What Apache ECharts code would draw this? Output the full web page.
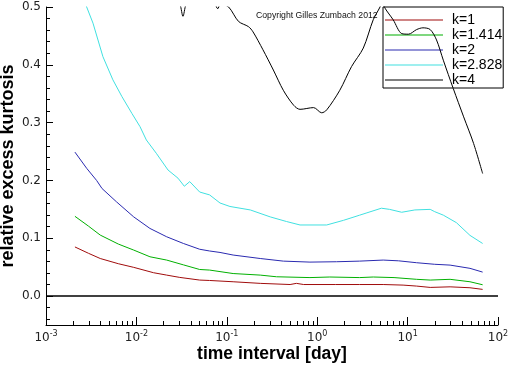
<!DOCTYPE html>
<html>
<head>
<meta charset="utf-8">
<script src="https://cdn.jsdelivr.net/npm/echarts@6/dist/echarts.min.js"></script>
<style>
  html, body { margin: 0; padding: 0; background: #fff; }
  #chart { width: 512px; height: 366px; }
</style>
</head>
<body>
<div id="chart"></div>
<script>
// x values are log10 of the time interval in days
const seriesNames = ['k=1', 'k=1.414', 'k=2', 'k=2.828', 'k=4'];
const xTickExponents = [-3, -2, -1, 0, 1, 2];
const yTickLabels = [0.0, 0.1, 0.2, 0.3, 0.4, 0.5];

const logTimeK1 = [-2.68, -2.53, -2.40, -2.2, -2.03, -1.81, -1.665, -1.52, -1.30, -1.19, -0.93, -0.63, -0.30, -0.23, -0.15, 0.2, 0.47, 0.73, 0.95, 1.10, 1.25, 1.47, 1.69, 1.83];
const kurtK1 = [0.085, 0.074, 0.065, 0.056, 0.0497, 0.0404, 0.0363, 0.0323, 0.0277, 0.027, 0.0248, 0.022, 0.020, 0.022, 0.020, 0.020, 0.020, 0.020, 0.019, 0.0173, 0.015, 0.016, 0.0144, 0.0116];

const logTimeK1414 = [-2.68, -2.53, -2.40, -2.2, -2.03, -1.85, -1.665, -1.48, -1.30, -1.19, -0.93, -0.63, -0.45, -0.08, 0.14, 0.47, 0.62, 0.85, 1.10, 1.25, 1.47, 1.69, 1.83];
const kurtK1414 = [0.138, 0.121, 0.1055, 0.090, 0.0796, 0.068, 0.0623, 0.054, 0.046, 0.045, 0.039, 0.0363, 0.0334, 0.032, 0.033, 0.032, 0.033, 0.032, 0.029, 0.0277, 0.029, 0.0248, 0.0196];

const logTimeK2 = [-2.68, -2.55, -2.44, -2.38, -2.22, -2.03, -1.85, -1.665, -1.48, -1.30, -1.19, -1.075, -0.93, -0.63, -0.375, -0.08, 0.215, 0.47, 0.73, 0.9, 1.10, 1.30, 1.47, 1.69, 1.83];
const kurtK2 = [0.249, 0.221, 0.200, 0.186, 0.163, 0.137, 0.117, 0.1026, 0.091, 0.081, 0.078, 0.0755, 0.071, 0.065, 0.0605, 0.0588, 0.0594, 0.0605, 0.0623, 0.061, 0.0577, 0.055, 0.0536, 0.048, 0.0415];

const logTimeK2828 = [-2.68, -2.55, -2.48, -2.37, -2.26, -2.16, -2.05, -1.96, -1.89, -1.78, -1.65, -1.54, -1.47, -1.41, -1.30, -1.19, -1.075, -0.965, -0.74, -0.52, -0.34, -0.19, 0.105, 0.29, 0.47, 0.55, 0.71, 0.80, 0.935, 1.08, 1.25, 1.30, 1.395, 1.54, 1.69, 1.83];
const kurtK2828 = [0.56, 0.50, 0.472, 0.414, 0.374, 0.345, 0.316, 0.293, 0.270, 0.247, 0.218, 0.204, 0.190, 0.198, 0.180, 0.175, 0.161, 0.155, 0.149, 0.137, 0.129, 0.123, 0.123, 0.131, 0.140, 0.144, 0.152, 0.150, 0.145, 0.149, 0.150, 0.146, 0.140, 0.127, 0.105, 0.091];

const logTimeK4 = [-2.68, -2.4, -2.1, -1.8, -1.6, -1.52, -1.485, -1.45, -1.35, -1.2, -1.13, -1.10, -1.07, -0.98, -0.87, -0.76, -0.71, -0.60, -0.485, -0.375, -0.26, -0.19, -0.04, 0.05, 0.105, 0.25, 0.38, 0.51, 0.62, 0.695, 0.72, 0.75, 0.84, 0.935, 1.01, 1.10, 1.17, 1.25, 1.32, 1.395, 1.505, 1.62, 1.73, 1.83];
const kurtK4 = [1.10, 0.85, 0.70, 0.58, 0.52, 0.505, 0.484, 0.505, 0.53, 0.52, 0.505, 0.497, 0.505, 0.50, 0.475, 0.466, 0.457, 0.426, 0.391, 0.356, 0.330, 0.323, 0.326, 0.317, 0.322, 0.356, 0.397, 0.429, 0.478, 0.50, 0.51, 0.498, 0.478, 0.454, 0.453, 0.461, 0.464, 0.461, 0.443, 0.408, 0.359, 0.31, 0.264, 0.212];

const seriesX = [logTimeK1, logTimeK1414, logTimeK2, logTimeK2828, logTimeK4];
const seriesY = [kurtK1, kurtK1414, kurtK2, kurtK2828, kurtK4];
const colors = ['#a00c0c', '#00b000', '#2a2ab0', '#40e0e0', '#000000'];

// minor tick positions (log-decade subdivisions, and 0.02 steps on y)
const minorX = [];
for (let n = -3; n < 2; n++) for (let m = 2; m <= 9; m++) minorX.push(n + Math.log10(m));
const minorY = [];
for (let i = -2; i <= 24; i++) if (i % 5 !== 0) minorY.push(Math.round(i * 2) / 100);

const chart = echarts.init(document.getElementById('chart'), null, { renderer: 'canvas' });

const series = seriesNames.map((name, i) => ({
  name: name,
  type: 'line',
  xAxisIndex: 0,
  yAxisIndex: 0,
  symbol: 'none',
  smooth: i === 4 ? 0.3 : false,
  clip: true,
  lineStyle: { color: colors[i], width: 1 },
  itemStyle: { color: colors[i] },
  data: seriesX[i].map((x, j) => [x, seriesY[i][j]]),
  z: 3
}));
series[0].markLine = {
  silent: true,
  symbol: 'none',
  label: { show: false },
  lineStyle: { color: '#000', width: 1.5, type: 'solid' },
  data: [{ yAxis: 0 }]
};

const option = {
  animation: false,
  grid: { left: 46, right: 14, top: 7, bottom: 41, containLabel: false, outerBoundsMode: 'none' },
  legend: {
    orient: 'vertical',
    left: 383,
    top: 7,
    padding: [6, 1, 1, 2],
    itemGap: 1,
    itemWidth: 58,
    itemHeight: 1,
    icon: 'rect',
    borderColor: '#000',
    borderWidth: 1,
    backgroundColor: 'transparent',
    textStyle: { fontFamily: 'Liberation Sans', fontSize: 14, lineHeight: 12, color: '#000', padding: [0, 0, 0, 4] },
    data: seriesNames,
    z: 1
  },
  graphic: [{
    type: 'text',
    left: 256,
    top: 11,
    style: { text: 'Copyright Gilles Zumbach 2012', fontFamily: 'Liberation Sans', fontSize: 8.7, fill: '#111' },
    z: 1
  }],
  xAxis: [{
    type: 'value',
    min: -3,
    max: 2,
    interval: 1,
    position: 'bottom',
    name: 'time interval [day]',
    nameLocation: 'middle',
    nameGap: 20,
    nameMoveOverlap: false,
    nameTextStyle: { fontFamily: 'Liberation Sans', fontWeight: 'bold', fontSize: 17.5, color: '#000' },
    axisLine: { show: true, onZero: false, lineStyle: { color: '#000', width: 1 } },
    axisTick: { show: true, inside: true, length: 8, lineStyle: { color: '#000' } },
    splitLine: { show: false },
    axisLabel: {
      margin: 5,
      formatter: v => '{b|10}{s|' + v + '}',
      rich: {
        b: { fontFamily: 'DejaVu Sans', fontSize: 12, lineHeight: 16, color: '#222' },
        s: { fontFamily: 'DejaVu Sans', fontSize: 8, lineHeight: 8, verticalAlign: 'top', color: '#222' }
      }
    }
  }, {
    type: 'value',
    min: -3,
    max: 2,
    position: 'bottom',
    axisLine: { show: false, onZero: false },
    axisTick: { show: true, inside: true, length: 4, customValues: minorX, lineStyle: { color: '#000' } },
    axisLabel: { show: false },
    splitLine: { show: false }
  }],
  yAxis: [{
    type: 'value',
    min: -0.05,
    max: 0.5,
    position: 'left',
    name: 'relative excess kurtosis',
    nameLocation: 'middle',
    nameGap: 29,
    nameMoveOverlap: false,
    nameRotate: 90,
    nameTextStyle: { fontFamily: 'Liberation Sans', fontWeight: 'bold', fontSize: 18, color: '#000' },
    axisLine: { show: true, onZero: false, lineStyle: { color: '#000', width: 1 } },
    axisTick: { show: true, inside: true, length: 7, customValues: yTickLabels, lineStyle: { color: '#000' } },
    splitLine: { show: false },
    axisLabel: {
      customValues: yTickLabels,
      margin: 5,
      fontFamily: 'DejaVu Sans',
      fontSize: 12,
      color: '#222',
      formatter: v => v.toFixed(1)
    }
  }, {
    type: 'value',
    min: -0.05,
    max: 0.5,
    position: 'left',
    offset: 0,
    axisLine: { show: false, onZero: false },
    axisTick: { show: true, inside: true, length: 4, customValues: minorY, lineStyle: { color: '#000' } },
    axisLabel: { show: false },
    splitLine: { show: false }
  }],
  series: series
};

chart.setOption(option);
</script>
</body>
</html>
